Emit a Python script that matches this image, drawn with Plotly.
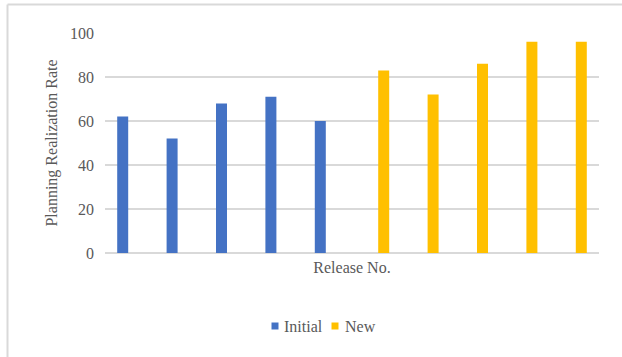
import plotly.graph_objects as go

releases = [str(i) for i in range(1, 11)]
initial_values = [62, 52, 68, 71, 60]
new_values = [83, 72, 86, 96, 96]
y_ticks = [0, 20, 40, 60, 80, 100]
series_names = ["Initial", "New"]
series_colors = ["#4472C4", "#FFC000"]

W, H = 622, 357
L, R, T, B = 105, 23, 33, 104
pw, ph = W - L - R, H - T - B

def px_x(x):
    return (x - L) / pw

def px_y(y):
    return (H - B - y) / ph

font_family = "Liberation Serif, Times New Roman, serif"
txt = "#595959"

bar_w = 0.2227
fig = go.Figure()
fig.add_trace(go.Bar(name=series_names[0], x=releases[:5], y=initial_values,
                     width=bar_w, offset=-0.1417 - bar_w / 2,
                     marker=dict(color=series_colors[0], line=dict(width=0)),
                     showlegend=False))
fig.add_trace(go.Bar(name=series_names[1], x=releases[5:], y=new_values,
                     width=bar_w, offset=0.1417 - bar_w / 2,
                     marker=dict(color=series_colors[1], line=dict(width=0)),
                     showlegend=False))

# manual legend (small squares + labels)
legend_items = [(271.5, 282, 0), (331.5, 343, 1)]
shapes = [
    dict(type="line", xref="paper", yref="paper",
         x0=px_x(7.5), x1=px_x(622), y0=px_y(4.5), y1=px_y(4.5),
         line=dict(color="#d9d9d9", width=2)),
    dict(type="line", xref="paper", yref="paper",
         x0=px_x(7.5), x1=px_x(7.5), y0=px_y(4.5), y1=px_y(357),
         line=dict(color="#d9d9d9", width=2)),
]
annotations = []
for sx, tx, i in legend_items:
    shapes.append(dict(type="rect", xref="paper", yref="paper",
                       x0=px_x(sx), x1=px_x(sx + 7), y0=px_y(322.5), y1=px_y(329.5),
                       fillcolor=series_colors[i], line=dict(width=0)))
    annotations.append(dict(text=series_names[i], xref="paper", yref="paper",
                            x=px_x(tx), y=px_y(326), xanchor="left", yanchor="middle",
                            showarrow=False, font=dict(size=16, color=txt)))

fig.update_layout(
    width=W, height=H,
    margin=dict(l=L, r=R, t=T, b=B, autoexpand=False),
    paper_bgcolor="white", plot_bgcolor="white",
    barmode="overlay",
    font=dict(family=font_family, color=txt, size=16),
    showlegend=False,
    xaxis=dict(categoryorder="array", categoryarray=releases,
               range=[-0.5, 9.5],
               showticklabels=False, showgrid=False, zeroline=False,
               showline=False, ticks="",
               title=dict(text="Release No.", standoff=8,
                          font=dict(size=16, color=txt))),
    yaxis=dict(range=[0, 100], tickvals=y_ticks, showgrid=True,
               gridcolor="#d9d9d9", gridwidth=1.5, zeroline=True,
               zerolinecolor="#d9d9d9", zerolinewidth=1.5,
               showline=False, ticks="", ticklabelstandoff=10,
               tickfont=dict(size=16, color=txt),
               title=dict(text="Planning Realization Rate", standoff=8,
                          font=dict(size=16, color=txt))),
    shapes=shapes,
    annotations=annotations,
)

fig.write_html("out.html")
